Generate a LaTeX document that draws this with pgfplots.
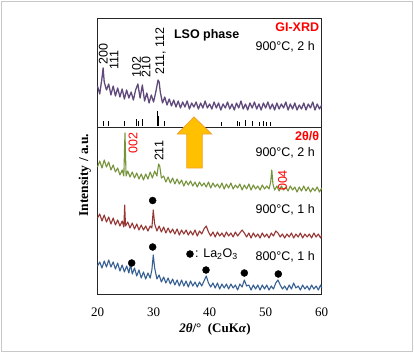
\documentclass[border=0pt]{standalone}
\usepackage{fontspec}
\setmainfont{Liberation Serif}
\newfontfamily\arial{Liberation Sans}
\usepackage{pgfplots}
\pgfplotsset{compat=1.18}
\definecolor{cpur}{HTML}{604A7B}
\definecolor{cgrn}{HTML}{77933C}
\definecolor{cred}{HTML}{953735}
\definecolor{cblu}{HTML}{376092}
\definecolor{corg}{HTML}{FFC000}
\definecolor{corgline}{HTML}{F0A030}
\definecolor{labred}{HTML}{FF0000}
\definecolor{framegray}{HTML}{C8C8C8}
\begin{document}
\begin{tikzpicture}[x=1pt,y=1pt]
\useasboundingbox (0,0) rectangle (414,353);
\draw[framegray, line width=1.3pt] (1.2,1.2) rectangle (412.8,351.8);
\begin{axis}[
 at={(97.5pt,59pt)}, anchor=south west,
 scale only axis, width=224.2pt, height=276pt,
 xmin=20, xmax=60, ymin=18, ymax=294, y dir=reverse,
 xtick={20,30,...,60}, ytick=\empty,
 major tick length=0pt,
 /pgf/number format/assume math mode=true,
 xticklabel style={font=\fontsize{13}{13}\selectfont, anchor=center, yshift=-18pt},
 axis line style={line width=0.9pt, black!85},
 xlabel={\textbf{\textit{2θ}/°\ \ (CuK\textit{α})}},
 xlabel style={at={(axis description cs:0.524,-0.127)}, anchor=center, font=\fontsize{13}{13}\selectfont},
 ylabel={\textbf{Intensity / a.u.}},
 ylabel style={at={(axis description cs:-0.0558,0.431)}, anchor=center, font=\fontsize{13.5}{13.5}\selectfont},
 clip=false,
 unbounded coords=jump,
]
% purple GI-XRD
\addplot[cpur, line width=1.3pt, line join=round] coordinates {
(20.0,86) (20.4,94) (20.8,78) (21.0,68) (21.2,82) (21.6,90) (22.0,84) (22.4,95) (22.8,86) (23.2,96)
(23.6,88) (24.0,97) (24.4,89) (24.8,99) (25.2,90) (25.6,98) (26.0,92) (26.4,100) (26.8,90) (27.2,84)
(27.6,98) (28.0,85) (28.4,101) (28.8,93) (29.2,103) (29.6,95) (30.0,102) (30.4,92) (30.8,80) (31.0,82)
(31.2,92) (31.6,103) (32.0,97) (32.4,105) (32.8,99) (33.2,106) (33.6,100) (34.0,107) (34.4,101) (34.8,108)
(35.2,102) (35.6,107) (36.0,101) (36.4,109) (36.8,103) (37.2,107) (37.6,102) (38.0,109) (38.4,103) (38.8,108)
(39.2,101) (39.6,108) (40.0,104) (40.4,109) (40.8,102) (41.2,108) (41.6,103) (42.0,110) (42.4,104) (42.8,108)
(43.2,102) (43.6,109) (44.0,104) (44.4,110) (44.8,103) (45.2,108) (45.6,101) (46.0,109) (46.4,104) (46.8,110)
(47.2,103) (47.6,108) (48.0,102) (48.4,109) (48.8,104) (49.2,110) (49.6,103) (50.0,108) (50.4,102) (50.8,109)
(51.2,104) (51.6,110) (52.0,103) (52.4,109) (52.8,104) (53.2,108) (53.6,102) (54.0,110) (54.4,104) (54.8,109)
(55.2,103) (55.6,110) (56.0,105) (56.4,109) (56.8,103) (57.2,110) (57.6,104) (58.0,108) (58.4,102) (58.8,110)
(59.2,104) (59.6,109) (60.0,105)};
% green 900C 2h
\addplot[cgrn, line width=1.1pt, line join=round] coordinates {
(20.0,167) (20.4,161) (20.8,168) (21.2,160) (21.6,167) (22.0,162) (22.4,170) (22.8,165) (23.2,172) (23.6,168)
(24.0,175) (24.4,170) (24.7,176) (24.9,133) (25.1,176) (25.4,171) (25.8,177) (26.2,172) (26.6,178) (27.0,173)
(27.4,179) (27.8,174) (28.2,180) (28.6,174) (29.0,179) (29.4,172) (29.8,178) (30.2,171) (30.6,176) (30.9,164)
(31.1,166) (31.4,178) (31.8,176) (32.2,182) (32.6,177) (33.0,183) (33.4,178) (33.8,184) (34.2,179) (34.6,184)
(35.0,180) (35.4,186) (35.8,181) (36.2,185) (36.6,181) (37.0,186) (37.4,182) (37.8,187) (38.2,182) (38.6,186)
(39.0,183) (39.4,187) (39.8,182) (40.2,188) (40.6,183) (41.0,187) (41.4,184) (41.8,188) (42.2,183) (42.6,189)
(43.0,184) (43.4,188) (43.8,183) (44.2,189) (44.6,185) (45.0,188) (45.4,184) (45.8,190) (46.2,185) (46.6,189)
(47.0,184) (47.4,190) (47.8,185) (48.2,189) (48.6,186) (49.0,190) (49.4,185) (49.8,189) (50.2,186) (50.6,189)
(50.9,182) (51.1,170) (51.3,184) (51.6,190) (52.0,186) (52.4,191) (52.8,186) (53.2,190) (53.6,187) (54.0,191)
(54.4,186) (54.8,190) (55.2,187) (55.6,192) (56.0,187) (56.4,191) (56.8,186) (57.2,191) (57.6,187) (58.0,192)
(58.4,188) (58.8,191) (59.2,187) (59.6,192) (60.0,188)};
% red 900C 1h
\addplot[cred, line width=1.1pt, line join=round] coordinates {
(20.0,218) (20.4,214) (20.8,221) (21.2,215) (21.6,222) (22.0,217) (22.4,224) (22.8,218) (23.2,225) (23.6,220)
(24.0,226) (24.4,221) (24.7,227) (24.85,205) (25.0,226) (25.4,222) (25.8,228) (26.2,223) (26.6,229) (27.0,224)
(27.4,230) (27.8,225) (28.2,230) (28.6,226) (29.0,231) (29.4,226) (29.7,228) (29.95,210) (30.2,224) (30.6,231)
(31.0,226) (31.4,232) (31.8,227) (32.2,233) (32.6,228) (33.0,233) (33.4,229) (33.8,234) (34.2,229) (34.6,235)
(35.0,230) (35.4,234) (35.8,230) (36.2,235) (36.6,231) (37.0,235) (37.4,230) (37.8,236) (38.2,231) (38.6,234)
(39.0,229) (39.4,226) (39.8,232) (40.2,236) (40.6,232) (41.0,237) (41.4,232) (41.8,236) (42.2,233) (42.6,237)
(43.0,232) (43.4,236) (43.8,233) (44.2,237) (44.6,232) (45.0,236) (45.4,233) (45.8,230) (46.2,233) (46.6,237)
(47.0,233) (47.4,238) (47.8,233) (48.2,237) (48.6,234) (49.0,238) (49.4,233) (49.8,237) (50.2,234) (50.6,238)
(51.0,233) (51.4,236) (51.8,231) (52.2,233) (52.6,237) (53.0,234) (53.4,238) (53.8,234) (54.2,237) (54.6,233)
(55.0,238) (55.4,234) (55.8,237) (56.2,233) (56.6,238) (57.0,234) (57.4,237) (57.8,234) (58.2,238) (58.6,233)
(59.0,237) (59.4,234) (59.8,238) (60.0,235)};
% blue 800C 1h
\addplot[cblu, line width=1.1pt, line join=round] coordinates {
(20.0,266) (20.4,262) (20.8,268) (21.2,261) (21.6,267) (22.0,260) (22.4,267) (22.8,262) (23.2,269) (23.6,263)
(24.0,271) (24.4,265) (24.8,272) (25.2,266) (25.6,273) (25.9,264) (26.2,274) (26.6,268) (27.0,276) (27.4,270)
(27.8,278) (28.2,272) (28.6,279) (29.0,273) (29.4,278) (29.7,270) (29.95,255) (30.2,268) (30.6,279) (31.0,275)
(31.4,282) (31.8,277) (32.2,283) (32.6,278) (33.0,284) (33.4,279) (33.8,285) (34.2,280) (34.6,286) (35.0,280)
(35.4,286) (35.8,281) (36.2,287) (36.6,281) (37.0,286) (37.4,282) (37.8,287) (38.2,282) (38.6,286) (39.0,281)
(39.4,276) (39.8,283) (40.2,287) (40.6,283) (41.0,288) (41.4,283) (41.8,289) (42.2,284) (42.6,288) (43.0,284)
(43.4,289) (43.8,284) (44.2,288) (44.6,285) (45.0,290) (45.4,284) (45.8,287) (46.2,280) (46.6,286) (47.0,285)
(47.4,290) (47.8,285) (48.2,289) (48.6,285) (49.0,290) (49.4,285) (49.8,289) (50.2,285) (50.6,290) (51.0,286)
(51.4,289) (51.8,283) (52.2,280) (52.6,285) (53.0,289) (53.4,286) (53.8,290) (54.2,285) (54.6,289) (55.0,283)
(55.4,288) (55.8,286) (56.2,290) (56.6,285) (57.0,289) (57.4,286) (57.8,290) (58.2,285) (58.6,289) (59.0,286)
(59.4,290) (59.8,285) (60.0,288)};
% divider between panels
\addplot[black!85, line width=0.9pt] coordinates {(20,127) (60,127)};
% reference sticks
\addplot[black, line width=1pt] coordinates {
(21.04,126) (21.04,121) (21.04,nan)
(22.05,126) (22.05,121) (22.05,nan)
(24.79,126) (24.79,121) (24.79,nan)
(26.99,126) (26.99,119) (26.99,nan)
(27.34,126) (27.34,121) (27.34,nan)
(28.06,126) (28.06,119) (28.06,nan)
(30.74,126) (30.74,111) (30.74,nan)
(30.97,126) (30.97,116) (30.97,nan)
(31.98,126) (31.98,121) (31.98,nan)
(42.15,126) (42.15,122) (42.15,nan)
(45.01,126) (45.01,121) (45.01,nan)
(45.42,126) (45.42,122) (45.42,nan)
(46.37,126) (46.37,120) (46.37,nan)
(47.62,126) (47.62,121) (47.62,nan)
(48.99,126) (48.99,122) (48.99,nan)
(49.59,126) (49.59,121) (49.59,nan)
(50.18,126) (50.18,122) (50.18,nan)
(50.78,126) (50.78,122)};
% La2O3 markers
\addplot[only marks, mark=*, mark size=3.5pt, black] coordinates {
(26.1,263) (29.84,247) (39.36,270) (46.2,273) (52.26,274) (29.84,200.5) (36.5,254)};
% arrow
\draw[fill=corg, draw=corgline, line width=0.8pt, line join=miter]
 (axis cs:37.22,117) -- (axis cs:40.37,134) -- (axis cs:38.70,134) -- (axis cs:38.70,168)
 -- (axis cs:35.91,168) -- (axis cs:35.91,134) -- (axis cs:34.24,134) -- cycle;
% texts, upper panel
\begin{scope}[every node/.style={inner sep=0pt, font=\arial\fontsize{12.5}{12.5}\selectfont}]
\node[rotate=90, anchor=west] at (axis cs:21.04,65) {200};
\node[rotate=90, anchor=west] at (axis cs:22.94,70) {111};
\node[rotate=90, anchor=west] at (axis cs:26.99,78) {102};
\node[rotate=90, anchor=west] at (axis cs:28.65,78) {210};
\node[rotate=90, anchor=west] at (axis cs:31.27,75) {211, 112};
\node[font=\arial\bfseries\fontsize{12.5}{12.5}\selectfont] at (axis cs:39.48,35) {LSO phase};
\node[anchor=east, text=labred, font=\arial\bfseries\fontsize{12.5}{12.5}\selectfont] at (axis cs:59.57,27.5) {GI-XRD};
\node[anchor=east] at (axis cs:58.8,47) {900°C, 2 h};
% lower panel
\node[anchor=east, text=labred, font=\arial\bfseries\fontsize{12.5}{12.5}\selectfont] at (axis cs:59.57,136) {2θ/θ};
\node[anchor=east] at (axis cs:58.8,152.5) {900°C, 2 h};
\node[anchor=east] at (axis cs:58.8,210) {900°C, 1 h};
\node[anchor=east] at (axis cs:58.8,256.5) {800°C, 1 h};
\node[anchor=west] at (axis cs:37.4,254) {: La\textsubscript{2}O\textsubscript{3}};
\node[rotate=90, text=labred] at (axis cs:26.33,143) {002};
\node[rotate=90] at (axis cs:30.97,151) {211};
\node[rotate=90, text=labred] at (axis cs:53.0,180.5) {004};
\end{scope}
\end{axis}
\end{tikzpicture}
\end{document}
